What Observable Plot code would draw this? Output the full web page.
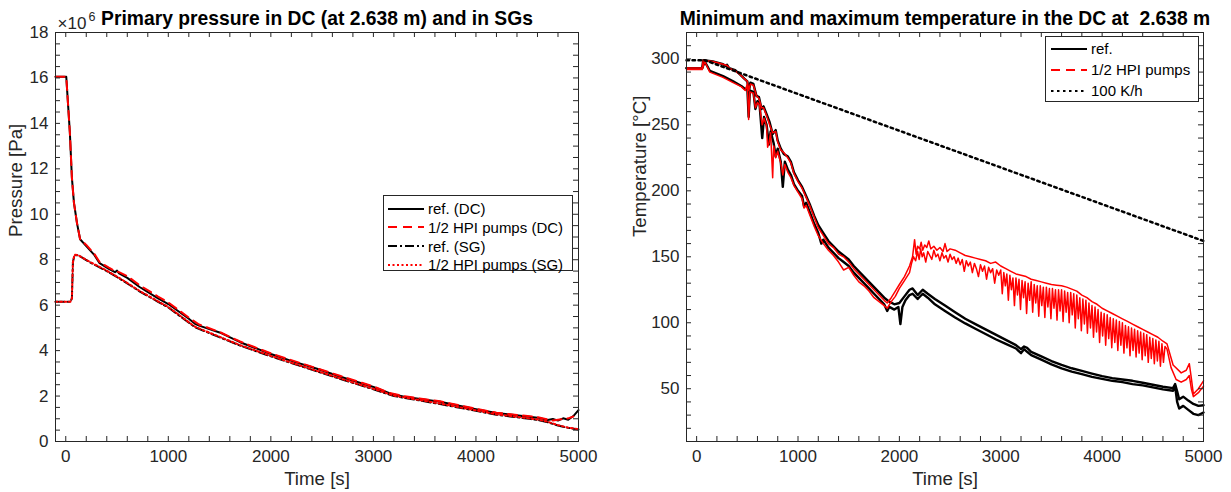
<!DOCTYPE html>
<html><head><meta charset="utf-8">
<script src="https://cdn.jsdelivr.net/npm/d3@7"></script>
<script src="https://cdn.jsdelivr.net/npm/@observablehq/plot@0.6"></script>
<style>
body{margin:0;background:#fff;font-family:"Liberation Sans",Arial,Helvetica,sans-serif;color:#262626}
#wrap{position:relative;width:1231px;height:492px;overflow:hidden;background:#fff}
#left{position:absolute;left:0;top:0}
#right{position:absolute;left:615px;top:0}
.legend{position:absolute;background:#fff;border:1px solid #262626;box-sizing:border-box;font-size:15px;color:#000}
.row{position:absolute;left:0;height:18px;display:flex;align-items:center;white-space:nowrap}
.row svg{margin-right:4px}
</style>
</head><body>
<div id="wrap"><div id="left"></div><div id="right"></div>
<div class="legend" id="legL" style="left:383px;top:195px;width:190px;height:76px"></div>
<div class="legend" id="legR" style="left:1045px;top:36px;width:154px;height:66px"></div>
</div>
<script>
// ---------------- Data: left panel (pressure, units of 10^6 Pa) ----------------
const xTicks = [0, 1000, 2000, 3000, 4000, 5000];
const pTicks = [0, 2, 4, 6, 8, 10, 12, 14, 16, 18];
const tTicks = [50, 100, 150, 200, 250, 300];

const dcRef = [[-100,16.05],[5,16.05],[20,15.0],[40,13.6],[60,11.6],[80,10.5],[110,9.6],[140,8.9],[200,8.6],[280,8.2],[330,7.85],[420,7.6],[480,7.45],[500,7.52],[520,7.4],[600,7.2],[720,6.8],[900,6.3],[1000,6.05],[1200,5.4],[1260,5.18],[1300,5.1],[1500,4.8],[1700,4.37],[2000,3.85],[2200,3.55],[2450,3.2],[2680,2.85],[3000,2.4],[3170,2.1],[3300,1.97],[3650,1.75],[4000,1.42],[4200,1.25],[4600,1.05],[4700,0.95],[4750,0.99],[4800,0.92],[4850,1.02],[4900,0.96],[4950,1.12],[5000,1.38]];
const dcHpi = [[-100,16.05],[5,16.05],[20,15.0],[40,13.6],[60,11.6],[80,10.5],[110,9.6],[140,8.9],[200,8.65],[280,8.25],[330,7.9],[420,7.65],[480,7.5],[520,7.45],[600,7.28],[720,6.88],[900,6.38],[1000,6.12],[1200,5.45],[1300,5.15],[1500,4.82],[1700,4.4],[2000,3.88],[2200,3.58],[2450,3.22],[2680,2.88],[3000,2.42],[3170,2.12],[3300,1.99],[3650,1.77],[4000,1.44],[4200,1.27],[4600,1.07],[4700,0.97],[4750,0.92],[4800,0.96],[4900,1.02],[4950,1.1]];
const sgRef = [[-100,6.15],[45,6.15],[60,6.3],[70,7.9],[85,8.2],[120,8.2],[250,7.85],[400,7.5],[550,7.1],[723,6.6],[900,6.15],[1000,5.9],[1260,5.03],[1700,4.22],[2000,3.75],[2200,3.45],[2680,2.75],[3000,2.3],[3200,2.0],[3650,1.65],[4000,1.35],[4200,1.18],[4600,0.95],[4700,0.85],[4800,0.7],[4900,0.6],[5000,0.53]];
const sgHpi = [[-100,6.15],[45,6.15],[60,6.3],[70,7.9],[85,8.22],[120,8.2],[250,7.87],[400,7.52],[550,7.12],[723,6.62],[900,6.17],[1000,5.92],[1260,5.05],[1700,4.24],[2000,3.77],[2200,3.47],[2680,2.77],[3000,2.32],[3200,2.02],[3650,1.67],[4000,1.37],[4200,1.2],[4600,0.97],[4700,0.87],[4800,0.72],[4900,0.61],[5000,0.54]];

// ---------------- Data: right panel (temperature, °C) ----------------
const refMax = [[-100,293],[55,293],[65,299],[160,298],[260,296],[290,294.5],[300,295.5],[320,293],[380,291.5],[430,288],[470,285],[500,283],[515,275],[530,282],[560,281],[590,272],[615,271],[640,262],[660,264],[690,258],[720,252],[750,243],[780,246],[800,238],[830,232],[860,228],[900,226],[930,222],[960,214],[1000,208],[1040,203],[1080,196],[1120,189],[1160,181],[1200,174],[1250,168],[1300,162],[1350,158],[1400,154],[1450,151],[1500,148],[1550,143],[1600,139],[1650,135],[1700,131],[1750,127],[1800,123],[1850,119],[1900,116],[1950,114],[2000,115],[2050,120],[2100,125],[2130,126],[2180,121],[2230,125],[2280,122],[2350,118],[2450,113],[2550,108],[2650,103],[2750,99],[2850,95],[2950,91],[3050,87],[3150,83],[3200,80],[3230,82],[3260,81],[3300,78],[3400,74.5],[3500,71],[3600,68],[3700,65.5],[3800,63.5],[3900,61.5],[4000,59.5],[4100,58],[4200,57],[4300,56],[4400,54.5],[4500,53],[4600,51.5],[4700,50.5],[4720,53.5],[4740,48],[4760,42],[4800,44],[4850,41],[4900,38.5],[4950,37],[5000,37.5]];
const refMin = [[-100,293],[55,293],[80,298],[130,291],[260,287],[360,283],[440,279.5],[480,277],[500,278],[513,256],[525,276],[560,275],[580,262],[600,268],[620,266],[647,240],[665,256],[690,250],[713,235],[730,245],[760,236],[780,226],[800,232],[830,222],[850,203],[870,222],[900,216],[930,212],[960,205],[1000,200],[1040,196],[1060,188],[1080,191],[1120,183],[1160,175],[1200,168],[1230,160],[1250,163],[1300,157],[1350,153],[1400,149],[1450,146],[1500,143],[1550,138],[1600,134],[1650,130],[1700,126],[1750,122],[1800,118],[1850,114],[1880,109],[1900,112],[1950,110],[1990,112],[2010,99],[2030,112],[2060,117],[2100,121],[2130,122],[2180,118],[2230,122],[2280,119],[2350,114],[2450,109],[2550,104],[2650,99.5],[2750,95.5],[2850,91.5],[2950,87.5],[3050,84],[3150,80.5],[3200,77],[3230,80],[3260,78],[3300,75.5],[3400,72],[3500,68.5],[3600,65.5],[3700,63],[3800,61],[3900,59],[4000,57.5],[4100,56],[4200,55],[4300,53.5],[4400,52.5],[4500,51],[4600,49.5],[4700,48.5],[4720,52],[4740,40],[4760,35],[4800,37],[4850,34],[4900,31],[4950,30],[5000,32]];
const hpiMax = [[-100,293],[55,293],[65,299],[160,298],[260,296],[300,295],[330,292.5],[380,291],[430,288],[470,285],[500,283],[515,276],[530,281],[560,280],[590,272],[615,270],[640,263],[660,263],[690,257],[720,250],[750,244],[780,245],[800,237],[830,231],[860,229],[900,225],[930,221],[960,213],[1000,207],[1040,202],[1080,195],[1120,188],[1160,180],[1200,172],[1250,166],[1300,160],[1350,157],[1400,152],[1450,150],[1500,146],[1550,141],[1600,137],[1650,133],[1700,129],[1750,125],[1800,121],[1850,117],[1880,115],[1920,119],[1960,124],[2000,129],[2050,135],[2100,143],[2130,150],[2150,163],[2165,152],[2180,158],[2200,156],[2215,161],[2230,155],[2250,159],[2270,157],[2290,162],[2310,156],[2340,158],[2370,155],[2400,157],[2430,154],[2450,160],[2470,154],[2500,156],[2550,155],[2600,153],[2650,151],[2700,150],[2750,149],[2800,148],[2850,147],[2900,145],[2950,146],[3000,143],[3050,141],[3100,139],[3150,137],[3200,136],[3250,135],[3300,133],[3350,132],[3400,131],[3450,130],[3500,129],[3550,128.5],[3600,128],[3650,127],[3700,125.5],[3750,124],[3800,121],[3850,119],[3900,116],[3950,114],[4000,111],[4050,109],[4100,107],[4150,105],[4200,103],[4250,101],[4300,99],[4350,97],[4400,95],[4450,93],[4500,91],[4550,89],[4600,86],[4640,84],[4700,68],[4780,62],[4830,64],[4860,69],[4880,58],[4900,46],[4950,50],[5000,56]];
const hpiMin = [[-100,292],[55,292],[80,298],[130,290],[260,286],[360,282],[440,279],[480,276],[500,281],[513,254],[525,275],[560,274],[580,263],[600,267],[620,265],[647,250],[665,255],[690,249],[700,233],[713,236],[730,244],[750,210],[760,234],[780,225],[800,230],[830,221],[850,212],[870,220],[900,214],[930,210],[960,204],[1000,199],[1040,194],[1060,187],[1080,189],[1120,181],[1160,173],[1200,166],[1250,160],[1300,155],[1350,151],[1400,146],[1450,140],[1500,142],[1550,136],[1600,131],[1650,128],[1700,124],[1750,119],[1800,116],[1850,113],[1880,111],[1920,116],[1960,120],[2000,126],[2050,132],[2100,138],[2120,145],[2140,150],[2160,147],[2180,154],[2195,148],[2210,156],[2225,150],[2240,153],[2260,146],[2280,154],[2300,151],[2320,148],[2340,155],[2360,150],[2380,152],[2400,147],[2420,153],[2440,149],[2460,151],[2480,146],[2500,152],[2520,148],[2540,150],[2560,145],[2580,149],[2600,144],[2620,148],[2640,139],[2660,147],[2680,143],[2700,146],[2720,138],[2740,145],[2760,141],[2780,135],[2800,144],[2820,139],[2840,143],[2860,133],[2880,142],[2900,138],[2920,141],[2940,130],[2960,140],[2980,136],[3000,140],[3015,122],[3030,138],[3045,128],[3060,137],[3075,117],[3090,136],[3105,125],[3120,134],[3135,113],[3150,134],[3165,121],[3180,133],[3195,110],[3210,132],[3225,119],[3240,131],[3255,107],[3270,130],[3285,117],[3300,131],[3315,108],[3330,129],[3345,115],[3360,128],[3375,105],[3390,128],[3405,113],[3420,127],[3435,104],[3450,127],[3465,112],[3480,126],[3495,103],[3510,126],[3525,111],[3540,125],[3555,102],[3570,125],[3585,109],[3600,125],[3615,101],[3630,124],[3645,108],[3660,123],[3675,100],[3690,123],[3705,106],[3720,122],[3735,96],[3750,121],[3765,103],[3780,119],[3795,94],[3810,118],[3825,99],[3840,117],[3855,92],[3870,115],[3885,96],[3900,113],[3915,89],[3930,112],[3945,93],[3960,110],[3975,85],[3990,108],[4005,90],[4020,107],[4035,83],[4050,106],[4065,88],[4080,104],[4095,81],[4110,103],[4125,85],[4140,102],[4155,79],[4170,101],[4185,83],[4200,100],[4215,77],[4230,98],[4245,81],[4260,97],[4275,75],[4290,96],[4305,79],[4320,95],[4335,74],[4350,94],[4365,77],[4380,93],[4395,72],[4410,92],[4425,75],[4440,91],[4455,70],[4470,89],[4485,73],[4500,88],[4515,69],[4530,87],[4545,71],[4560,86],[4575,67],[4590,84],[4605,70],[4620,82],[4640,80],[4680,66],[4730,57],[4780,55],[4830,57],[4860,60],[4880,50],[4900,44],[4950,47],[5000,52]];
const rate100 = [[-100,299],[80,299],[5000,162]];

// ---------------- Text ----------------
const titleL = "Primary pressure in DC (at 2.638 m) and in SGs";
const titleR = "Minimum and maximum temperature in the DC at  2.638 m";
const legendL = ["ref. (DC)", "1/2 HPI pumps (DC)", "ref. (SG)", "1/2 HPI pumps (SG)"];
const legendR = ["ref.", "1/2 HPI pumps", "100 K/h"];

const toObj = a => a.map(([t, v]) => ({t, v}));
const AX = "#262626";
const FONT = "'Liberation Sans', Arial, Helvetica, sans-serif";
const TICK = 17, LABEL = 18.7, TITLE = 19.3;
const xMinor = d3.range(0, 5001, 200);
const fmt = d => String(d);

// inward ticks on all four sides, as in the original
function frameAxes(yMinor, fw, fh) {
  const L = 5;
  return [
    Plot.ruleX(xMinor, {x: d => d, insetTop: fh - L, stroke: AX}),
    Plot.ruleX(xMinor, {x: d => d, insetBottom: fh - L, stroke: AX}),
    Plot.ruleY(yMinor, {y: d => d, insetRight: fw - L, stroke: AX}),
    Plot.ruleY(yMinor, {y: d => d, insetLeft: fw - L, stroke: AX}),
    Plot.frame({stroke: AX, strokeWidth: 1})
  ];
}

const left = Plot.plot({
  width: 615, height: 492,
  marginLeft: 55, marginRight: 37, marginTop: 32, marginBottom: 51,
  x: {domain: [-100, 5000]},
  y: {domain: [0, 18]},
  style: {fontFamily: FONT, fontSize: TICK + "px", color: AX, background: "white", overflow: "visible"},
  marks: [
    Plot.line(toObj(dcRef), {x: "t", y: "v", stroke: "#000", strokeWidth: 2}),
    Plot.line(toObj(dcHpi), {x: "t", y: "v", stroke: "#f00", strokeWidth: 2, strokeDasharray: "9,6"}),
    Plot.line(toObj(sgRef), {x: "t", y: "v", stroke: "#000", strokeWidth: 2, strokeDasharray: "9,3,2,3"}),
    Plot.line(toObj(sgHpi), {x: "t", y: "v", stroke: "#f00", strokeWidth: 2, strokeDasharray: "2,2.5"}),
    ...frameAxes(d3.range(0, 18.01, 0.5), 523, 409),
    Plot.axisX({ticks: xTicks, tickSize: 0, tickPadding: 8, tickFormat: fmt, label: null, fontSize: TICK, fill: AX}),
    Plot.axisY({ticks: pTicks, tickSize: 0, tickPadding: 7, tickFormat: fmt, label: null, fontSize: TICK, fill: AX}),
    Plot.text(["Time [s]"], {frameAnchor: "bottom", lineAnchor: "bottom", dy: 43, fontSize: LABEL, fill: AX}),
    Plot.text(["Pressure [Pa]"], {frameAnchor: "left", rotate: -90, dx: -39, fontSize: LABEL, fill: AX}),
    Plot.text([titleL], {frameAnchor: "top", lineAnchor: "bottom", dy: -8, fontSize: TITLE, fontWeight: "bold", fill: "#000"}),
    Plot.text(["×10"], {frameAnchor: "top-left", textAnchor: "start", lineAnchor: "bottom", dx: 2, dy: -4, fontSize: 17, fill: AX}),
    Plot.text(["6"], {frameAnchor: "top-left", textAnchor: "start", lineAnchor: "bottom", dx: 33, dy: -12, fontSize: 12.5, fill: AX})
  ]
});
document.getElementById("left").appendChild(left);

const right = Plot.plot({
  width: 616, height: 492,
  marginLeft: 71, marginRight: 28, marginTop: 32, marginBottom: 51,
  x: {domain: [-100, 5000]},
  y: {domain: [10, 320]},
  style: {fontFamily: FONT, fontSize: TICK + "px", color: AX, background: "white", overflow: "visible"},
  marks: [
    Plot.line(toObj(refMax), {x: "t", y: "v", stroke: "#000", strokeWidth: 2.4}),
    Plot.line(toObj(refMin), {x: "t", y: "v", stroke: "#000", strokeWidth: 2.4}),
    Plot.line(toObj(hpiMax), {x: "t", y: "v", stroke: "#f00", strokeWidth: 1.5}),
    Plot.line(toObj(hpiMin), {x: "t", y: "v", stroke: "#f00", strokeWidth: 1.5}),
    Plot.line(toObj(rate100), {x: "t", y: "v", stroke: "#000", strokeWidth: 2.5, strokeDasharray: "2.5,3.5"}),
    ...frameAxes(d3.range(10, 320.1, 10), 517, 409),
    Plot.axisX({ticks: xTicks, tickSize: 0, tickPadding: 8, tickFormat: fmt, label: null, fontSize: TICK, fill: AX}),
    Plot.axisY({ticks: tTicks, tickSize: 0, tickPadding: 7, tickFormat: fmt, label: null, fontSize: TICK, fill: AX}),
    Plot.text(["Time [s]"], {frameAnchor: "bottom", lineAnchor: "bottom", dy: 43, fontSize: LABEL, fill: AX}),
    Plot.text(["Temperature [°C]"], {frameAnchor: "left", rotate: -90, dx: -46, fontSize: LABEL, fill: AX}),
    Plot.text([titleR], {frameAnchor: "top", lineAnchor: "bottom", dy: -8, fontSize: TITLE, fontWeight: "bold", fill: "#000"})
  ]
});
document.getElementById("right").appendChild(right);

// ---------------- Legends ----------------
function sample(color, dash) {
  return `<svg width="36" height="6"><line x1="0" y1="3" x2="36" y2="3" stroke="${color}" stroke-width="2" ${dash ? `stroke-dasharray="${dash}"` : ""}/></svg>`;
}
const stylesL = [["#000", null], ["#f00", "9,6"], ["#000", "9,3,2,3"], ["#f00", "2,2.5"]];
document.getElementById("legL").innerHTML = legendL.map((s, i) =>
  `<div class="row" style="top:${3.5 + i * 18.8}px;left:4px">${sample(...stylesL[i])}<span>${s}</span></div>`).join("");
const stylesR = [["#000", null], ["#f00", "9,6"], ["#000", "2.5,3.5"]];
document.getElementById("legR").innerHTML = legendR.map((s, i) =>
  `<div class="row" style="top:${2.5 + i * 21}px;left:5px">${sample(...stylesR[i])}<span>${s}</span></div>`).join("");
</script>
</body></html>
